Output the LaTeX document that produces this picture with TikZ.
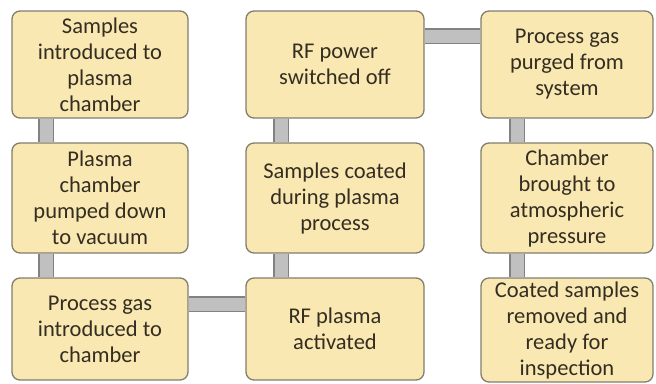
\documentclass[tikz,border=0pt]{standalone}
\usepackage{fontspec}
\setmainfont{Carlito}
\definecolor{boxfill}{RGB}{250,232,178}
\definecolor{boxdraw}{RGB}{130,125,110}
\definecolor{txt}{RGB}{52,46,34}
\definecolor{barfill}{RGB}{192,192,192}
\definecolor{bardraw}{RGB}{130,130,130}
\begin{document}
\begin{tikzpicture}[x=1pt,y=-1pt,
  stage/.style={draw=boxdraw, line width=1.3pt, fill=boxfill, rounded corners=8pt,
    align=center, text=txt, inner sep=0pt,
    font=\fontsize{22.5}{26}\selectfont},
  bar/.style={draw=bardraw, line width=1.5pt, double=barfill, double distance=13pt}]
\useasboundingbox (0,0) rectangle (656,383);
\fill[white] (0,0) rectangle (656,383);
% column 1
\node[stage, minimum width=176pt, minimum height=107pt] (a1) at (100,64.5) {Samples\\introduced to\\plasma\\chamber};
\node[stage, minimum width=176pt, minimum height=110pt] (a2) at (100,198) {Plasma\\chamber\\pumped down\\to vacuum};
\node[stage, minimum width=176pt, minimum height=102pt] (a3) at (100,329) {Process gas\\introduced to\\chamber};
% column 2
\node[stage, minimum width=178pt, minimum height=102pt] (b3) at (335,329) {RF plasma\\activated};
\node[stage, minimum width=178pt, minimum height=110pt] (b2) at (335,198) {Samples coated\\during plasma\\process};
\node[stage, minimum width=178pt, minimum height=107pt] (b1) at (335,64.5) {RF power\\switched off};
% column 3
\node[stage, minimum width=172pt, minimum height=107pt] (c1) at (567,64.5) {Process gas\\purged from\\system};
\node[stage, minimum width=172pt, minimum height=110pt] (c2) at (567,198) {Chamber\\brought to\\atmospheric\\pressure};
\node[stage, minimum width=172pt, minimum height=104pt] (c3) at (567,330) {Coated samples\\removed and\\ready for\\inspection};
% connectors
\draw[bar] ([xshift=35pt]a1.south west) -- ([xshift=35pt]a2.north west);
\draw[bar] ([xshift=35pt]a2.south west) -- ([xshift=35pt]a3.north west);
\draw[bar] ([yshift=-27pt]a3.north east) -- ([yshift=-27pt]b3.north west);
\draw[bar] ([xshift=36pt]b3.north west) -- ([xshift=36pt]b2.south west);
\draw[bar] ([xshift=36pt]b2.north west) -- ([xshift=36pt]b1.south west);
\draw[bar] ([yshift=-26pt]b1.north east) -- ([yshift=-26pt]c1.north west);
\draw[bar] ([xshift=37pt]c1.south west) -- ([xshift=37pt]c2.north west);
\draw[bar] ([xshift=37pt]c2.south west) -- ([xshift=37pt]c3.north west);
\end{tikzpicture}
\end{document}
